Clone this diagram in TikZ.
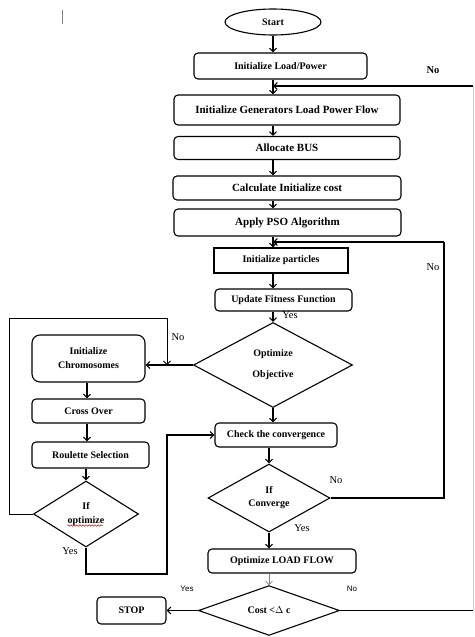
\documentclass[tikz,border=0pt]{standalone}
\usepackage{fontspec}
\setmainfont{Liberation Serif}
\newfontfamily\labsans{Liberation Sans}
\usetikzlibrary{shapes.geometric,arrows.meta,decorations.pathmorphing}
\begin{document}
\begin{tikzpicture}[x=1pt,y=-1pt,
  line width=1.1pt,
  >={Straight Barb[length=3.5pt,width=7pt]},
  rbox/.style={draw, rounded corners=4pt, inner sep=0pt, font=\fontsize{10}{12}\selectfont\bfseries, align=center},
  wbox/.style={rbox, font=\fontsize{11}{13}\selectfont\bfseries},
  sbox/.style={draw, inner sep=0pt, font=\fontsize{10}{12}\selectfont\bfseries},
  dec/.style={draw, diamond, inner sep=0pt, font=\fontsize{10}{12}\selectfont\bfseries, align=center},
  lab/.style={font=\fontsize{10.5}{12}\selectfont, inner sep=0pt},
  slab/.style={font=\labsans\fontsize{8}{10}\selectfont, inner sep=0pt},
  thinline/.style={line width=0.8pt}
]
\useasboundingbox (0,0) rectangle (474,637);
% cursor mark
\draw[gray, line width=1pt] (62,10) -- (62,24);

% main column
\node[draw, ellipse, inner sep=0pt, minimum width=96pt, minimum height=26pt, font=\fontsize{10}{12}\selectfont\bfseries] (start) at (273,22) {Start};
\node[rbox, minimum width=173pt, minimum height=26pt] (load) at (280.5,66) {Initialize Load/Power};
\node[wbox, minimum width=226pt, minimum height=30pt] (gen) at (287,110) {Initialize Generators Load Power Flow};
\node[wbox, minimum width=226pt, minimum height=23pt] (alloc) at (287,148) {Allocate BUS};
\node[wbox, minimum width=228pt, minimum height=24pt] (calc) at (287,188) {Calculate Initialize cost};
\node[wbox, minimum width=227pt, minimum height=27pt] (pso) at (287.5,222.5) {Apply PSO Algorithm};
\node[sbox, minimum width=134pt, minimum height=25pt] (part) at (281,260.5) {Initialize particles};
\node[rbox, minimum width=137pt, minimum height=22pt] (fit) at (283.5,300) {Update Fitness Function};
\node[dec, minimum width=159pt, minimum height=85pt] (opt) at (273,365) {Optimize\\[9pt]Objective};
\node[rbox, minimum width=122pt, minimum height=24pt] (check) at (276,435) {Check the convergence};
\node[dec, minimum width=122pt, minimum height=68pt] (conv) at (269,498) {If\\[1pt]Converge};
\node[rbox, minimum width=148pt, minimum height=24pt] (olf) at (282,561) {Optimize LOAD FLOW};
\node[dec, minimum width=141pt, minimum height=49pt] (cost) at (269,610.5) {Cost <\(\Delta\) c};
\node[rbox, minimum width=69pt, minimum height=27pt] (stop) at (131.5,610.5) {STOP};

% left column
\node[rbox, rounded corners=8pt, minimum width=113pt, minimum height=47pt] (chromo) at (88.5,358.5) {Initialize\\[2pt]Chromosomes};
\node[rbox, minimum width=113pt, minimum height=24pt] (cross) at (88.5,411) {Cross Over};
\node[rbox, minimum width=117pt, minimum height=26pt] (roul) at (90.5,455) {Roulette Selection};
\node[dec, minimum width=105pt, minimum height=66pt] (ifopt) at (86,514) {If\\[2pt]optimize};
\draw[red, line width=0.5pt, decorate, decoration={snake, amplitude=0.8pt, segment length=3pt}] (67,525.5) -- (103,525.5);

% spine coordinates
\coordinate (j1) at (273,86);
\coordinate (j2) at (273,242);
\coordinate (r1) at (473,86);
\coordinate (r2) at (444,242);
\coordinate (l1) at (9,318);
\coordinate (l2) at (167,318);
\coordinate (b1) at (86,574);
\coordinate (b2) at (167,574);

% main arrows
\draw[->] (start.south) -- (start.south |- load.north);
\draw[->] (j1 |- load.south) -- (j1 |- gen.north);
\draw[->] (j1 |- gen.south) -- (j1 |- alloc.north);
\draw[->] (j1 |- alloc.south) -- (j1 |- calc.north);
\draw[->] (j1 |- calc.south) -- (j1 |- pso.north);
\draw[->] (j1 |- pso.south) -- (j1 |- part.north);
\draw[->] (j1 |- part.south) -- (j1 |- fit.north);
\draw[->] (opt.north |- fit.south) -- (opt.north);
\draw[->] (opt.south) -- (opt.south |- check.north);
\draw[->] (conv.north |- check.south) -- (conv.north);
\draw[->] (conv.south) -- (conv.south |- olf.north);
\draw[->, gray, line width=0.6pt] (cost.north |- olf.south) -- (cost.north);
\draw[->] (cost.west) -- (stop.east);

% left arrows
\draw[->] (opt.west) -- (opt.west -| chromo.east);
\draw[->] (chromo.south -| 87,0) -- (cross.north -| 87,0);
\draw[->] (cross.south -| 87,0) -- (roul.north -| 87,0);
\draw[->] (ifopt.north |- roul.south) -- (ifopt.north);

% loops
\draw[thinline] (ifopt.west) -- (ifopt.west -| l1) -- (l1) -- (l2);
\draw[thinline, ->] (l2) -- (l2 |- opt.west);
\draw[->] (ifopt.south) -- (b1) -- (b2) -- (b2 |- check.west) -- (check.west);
\draw (conv.east) -- (conv.east -| r2) -- (r2);
\draw[->] (r2) -- (j2);
\draw (cost.east) -- (cost.east -| r1);
\draw[gray!40, line width=0.6pt] (cost.east -| r1) -- (r1);
\draw[->] (r1) -- (j1);

% labels
\node[lab, font=\fontsize{10.5}{12}\selectfont\bfseries] (n1) at (433,70) {No};
\node[lab] (n2) at (433,267) {No};
\node[lab] (y1) at (290,315) {Yes};
\node[lab] (n3) at (178,337) {No};
\node[lab] (n4) at (336,480) {No};
\node[lab] (y2) at (302,528) {Yes};
\node[lab] (y3) at (70,551) {Yes};
\node[slab] (y4) at (187,589) {Yes};
\node[slab] (n5) at (352,589) {No};
\end{tikzpicture}
\end{document}
